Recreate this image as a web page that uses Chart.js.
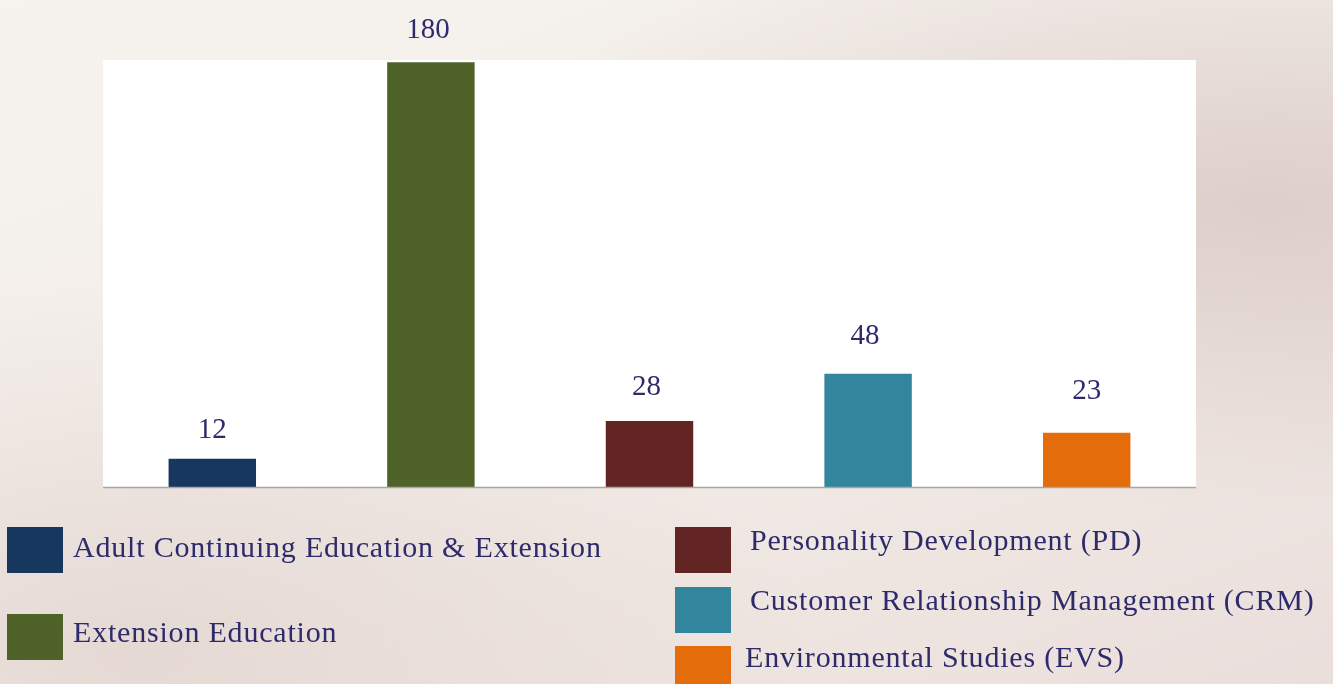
<!DOCTYPE html>
<html>
<head>
<meta charset="utf-8">
<script src="https://cdn.jsdelivr.net/npm/chart.js@4"></script>
<style>
  html, body { margin: 0; padding: 0; }
  body {
    width: 1333px; height: 684px; overflow: hidden; position: relative;
    background:
      radial-gradient(ellipse at 95% 30%, rgba(214,196,192,0.75), rgba(214,196,192,0) 45%),
      radial-gradient(ellipse at 10% 95%, rgba(222,205,200,0.6), rgba(222,205,200,0) 40%),
      linear-gradient(160deg, #f6f3ef 0%, #f2ece7 55%, #eadedb 100%);
    font-family: "Liberation Serif", "DejaVu Serif", serif;
  }
  #wrap { position: absolute; left: 0; top: 0; width: 1333px; height: 684px; }
  .leg { position: absolute; display: flex; align-items: center; color: #2d2b6b; font-size: 30px; letter-spacing: 0.8px; white-space: nowrap; }
  .leg .box { width: 56px; height: 46px; margin-right: 10px; flex: none; }
</style>
</head>
<body>
<div id="wrap"><canvas id="barChart" width="1333" height="684"></canvas></div>
<div id="legend"></div>
<script>
// 과목별 수치
const categories = [
    'Adult Continuing Education & Extension',
    'Extension Education',
    'Personality Development (PD)',
    'Customer Relationship Management (CRM)',
    'Environmental Studies (EVS)'
];
const values = [12, 180, 28, 48, 23];
const barColors = ['#17375e', '#4f6228', '#632523', '#31859c', '#e46c0a'];

// value label nudges (px above bar top, px sideways)
const labelLift = [21, 24, 26, 30, 34];
const labelShift = [0, -3, -3, -3, 0];

// legend placement (box left, box top, text offset)
const legendSpots = [
    { left: 7, top: 527, gap: 10, dy: -3 },
    { left: 7, top: 614, gap: 10, dy: -5 },
    { left: 675, top: 527, gap: 19, dy: -10 },
    { left: 675, top: 587, gap: 19, dy: -10 },
    { left: 675, top: 646, gap: 14, dy: -12 }
];

const legendEl = document.getElementById('legend');
categories.forEach((name, i) => {
    const s = legendSpots[i];
    const row = document.createElement('div');
    row.className = 'leg';
    row.style.left = s.left + 'px';
    row.style.top = s.top + 'px';
    row.innerHTML = '<span class="box" style="background:' + barColors[i] + ';margin-right:' + s.gap + 'px"></span>' +
        '<span style="position:relative;top:' + (s.dy || 0) + 'px">' + name + '</span>';
    legendEl.appendChild(row);
});

const plotBg = {
    id: 'plotBg',
    beforeDraw(chart) {
        const { ctx, chartArea: a } = chart;
        ctx.save();
        ctx.fillStyle = '#ffffff';
        ctx.fillRect(a.left, a.top, a.right - a.left, a.bottom - a.top);
        ctx.restore();
    },
    afterDatasetsDraw(chart) {
        const { ctx, chartArea: a } = chart;
        ctx.save();
        ctx.strokeStyle = '#a6a6a6';
        ctx.lineWidth = 1.5;
        ctx.beginPath();
        ctx.moveTo(a.left, a.bottom + 0.5);
        ctx.lineTo(a.right, a.bottom + 0.5);
        ctx.stroke();

        ctx.fillStyle = '#2d2b6b';
        ctx.font = '29px "Liberation Serif", serif';
        ctx.textAlign = 'center';
        ctx.textBaseline = 'alphabetic';
        const meta = chart.getDatasetMeta(0);
        meta.data.forEach((bar, i) => {
            ctx.fillText(String(values[i]), bar.x + labelShift[i], bar.y - labelLift[i]);
        });
        ctx.restore();
    }
};

new Chart(document.getElementById('barChart'), {
    type: 'bar',
    data: {
        labels: categories,
        datasets: [{
            data: values,
            backgroundColor: barColors,
            borderWidth: 0,
            categoryPercentage: 1,
            barPercentage: 0.4
        }]
    },
    options: {
        responsive: false,
        animation: false,
        layout: { padding: { left: 103, right: 137, top: 60, bottom: 197 } },
        scales: {
            x: { display: false },
            y: { display: false, min: 0, max: 181 }
        },
        plugins: {
            legend: { display: false },
            tooltip: { enabled: false }
        }
    },
    plugins: [plotBg]
});
</script>
</body>
</html>
